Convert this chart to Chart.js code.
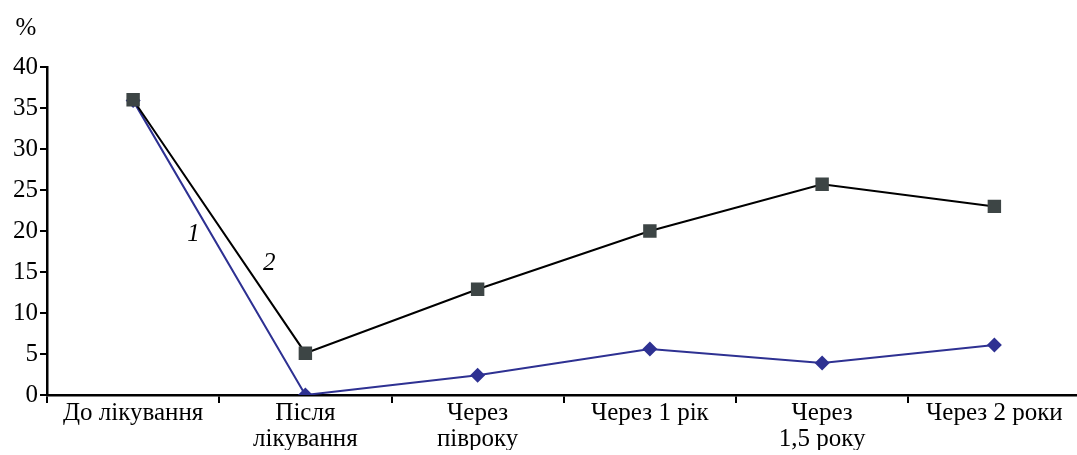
<!DOCTYPE html>
<html>
<head>
<meta charset="utf-8">
<script src="https://cdn.jsdelivr.net/npm/chart.js@4/dist/chart.umd.min.js"></script>
<style>
  html, body { margin: 0; padding: 0; background: #fff; overflow: hidden; }
  #wrap { width: 1090px; height: 455px; }
</style>
</head>
<body>
<div id="wrap"><canvas id="grafico"></canvas></div>
<script>
// категорії та значення (%)
const periodos = [
  'До лікування',
  ['Після', 'лікування'],
  ['Через', 'півроку'],
  'Через 1 рік',
  ['Через', '1,5 року'],
  'Через 2 роки'
];
const serie1 = [35.9, 0, 2.4, 5.6, 3.9, 6.1];
const serie2 = [36.0, 5.1, 12.9, 20.0, 25.7, 23.0];
const marcas = [
  { text: '1', x: 0.35, y: 19.6 },
  { text: '2', x: 0.79, y: 16.1 }
];
const fonte = '"Liberation Serif", "Times New Roman", serif';

// textos extras: "%" e os números das curvas
const textosExtras = {
  id: 'textosExtras',
  afterDraw(chart) {
    const c = chart.ctx;
    const xs = chart.scales.x, ys = chart.scales.y;
    c.save();
    c.fillStyle = '#000';
    c.textAlign = 'center';
    c.textBaseline = 'middle';
    c.font = '25px ' + fonte;
    c.fillText('%', 26, 28);
    c.font = 'italic 25px ' + fonte;
    marcas.forEach(m => {
      c.fillText(m.text, xs.getPixelForValue(m.x), ys.getPixelForValue(m.y));
    });
    c.restore();
  }
};

const ctx = document.getElementById('grafico').getContext('2d');
new Chart(ctx, {
  type: 'line',
  data: {
    labels: periodos,
    datasets: [
      {
        label: '2',
        data: serie2,
        borderColor: '#000000',
        borderWidth: 2,
        pointStyle: 'rect',
        pointRadius: 9.5,
        pointBackgroundColor: '#3d4545',
        pointBorderColor: '#3d4545',
        pointBorderWidth: 0,
        order: 0
      },
      {
        label: '1',
        data: serie1,
        borderColor: '#2e3192',
        borderWidth: 2,
        pointStyle: 'rectRot',
        pointRadius: 7.5,
        pointBackgroundColor: '#2e3192',
        pointBorderColor: '#2e3192',
        pointBorderWidth: 0,
        order: 1
      }
    ]
  },
  options: {
    responsive: true,
    maintainAspectRatio: false,
    animation: false,
    layout: { padding: { top: 67, left: 11, right: 2, bottom: 5 } },
    scales: {
      x: {
        offset: true,
        grid: { offset: true, drawOnChartArea: false, drawTicks: true, tickLength: 8, color: '#000', lineWidth: 2 },
        border: { color: '#000', width: 2.5 },
        ticks: { color: '#000', font: { family: fonte, size: 25, lineHeight: 1.06 }, maxRotation: 0, autoSkip: false, padding: -3 }
      },
      y: {
        min: 0,
        max: 40,
        grid: { drawOnChartArea: false, drawTicks: true, tickLength: 7, color: '#000', lineWidth: 2 },
        border: { color: '#000', width: 2.5 },
        ticks: { stepSize: 5, color: '#000', font: { family: fonte, size: 25 }, padding: 2 }
      }
    },
    plugins: { legend: { display: false }, tooltip: { enabled: false } }
  },
  plugins: [textosExtras]
});
</script>
</body>
</html>
